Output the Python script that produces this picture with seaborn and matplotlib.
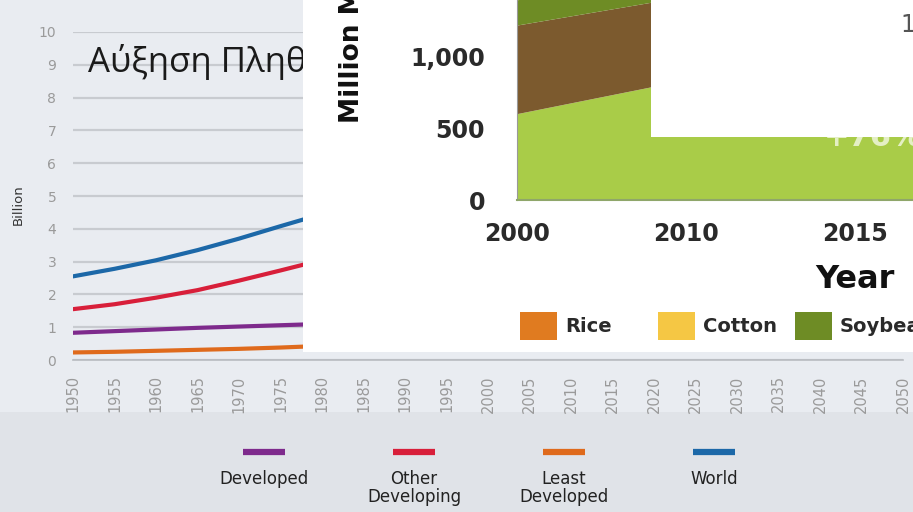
import numpy as np
import pandas as pd
import matplotlib
matplotlib.use('Agg')
import matplotlib.pyplot as plt
import seaborn as sns
from matplotlib.patches import Rectangle
from matplotlib.lines import Line2D
from matplotlib.ticker import StrMethodFormatter

# Population chart (background), billions
years = [1950, 1955, 1960, 1965, 1970, 1975, 1980]
world = [2.55, 2.78, 3.04, 3.35, 3.70, 4.08, 4.45]
other_developing = [1.55, 1.70, 1.90, 2.13, 2.42, 2.73, 3.05]
developed = [0.83, 0.88, 0.93, 0.98, 1.02, 1.06, 1.10]
least_developed = [0.23, 0.25, 0.28, 0.31, 0.34, 0.38, 0.43]
year_ticks = list(range(1950, 2051, 5))
y_ticks = list(range(0, 11))

series_names = ['Developed', 'Other Developing', 'Least Developed', 'World']
legend_labels = ['Developed', 'Other\nDeveloping', 'Least\nDeveloped', 'World']
series_colors = ['#7e2a8c', '#d81f3a', '#df6a1c', '#1c68a8']

# Crop chart (pasted on top), million metric tons
crop_years = ['2000', '2010', '2015', '2020']
crop_wheat = [600, 835, 1000, 1150]
crop_maize = [615, 580, 600, 620]
crop_soybean = [175, 260, 300, 330]
crop_cotton = [40, 60, 70, 80]
crop_rice = [60, 70, 80, 90]
crop_ticks = [0, 500, 1000]
legend_crops = ['Rice', 'Cotton', 'Soybean']
crop_colors = {'wheat': '#a9cc48', 'maize': '#7c5a2e', 'soybean': '#6e8c25',
               'cotton': '#f5c744', 'rice': '#e07b20'}

sns.set_style('white')
plt.rcParams['font.family'] = ['DejaVu Sans']

BG = '#e9ecf1'
fig = plt.figure(figsize=(9.13, 5.12), dpi=100, facecolor=BG)
fig.patches.append(Rectangle((0, 0), 1, 1 - 412 / 512, transform=fig.transFigure,
                             facecolor='#e0e3e8', edgecolor='none', zorder=-5))

# ---- background population chart
ax = fig.add_axes([73 / 913, 1 - 360 / 512, 830 / 913, 328 / 512])
ax.set_facecolor('none')
df = pd.DataFrame({'year': years * 4,
                   'value': developed + other_developing + least_developed + world,
                   'region': sum([[n] * len(years) for n in series_names], [])})
sns.lineplot(data=df, x='year', y='value', hue='region', hue_order=series_names,
             palette=dict(zip(series_names, series_colors)), linewidth=3,
             legend=False, ax=ax, zorder=3)
ax.set_xticks(year_ticks)
ax.set_xticklabels([str(y) for y in year_ticks], rotation=90)
ax.set_yticks(y_ticks)
ax.set_xlim(1950, 2050)
ax.set_ylim(0, 10)
ax.grid(axis='y', color='#c8cbd0', linewidth=1.6)
ax.grid(axis='x', visible=False)
for s in ['top', 'right', 'left']:
    ax.spines[s].set_visible(False)
ax.spines['bottom'].set_color('#b8bbc0')
ax.spines['bottom'].set_linewidth(1.2)
ax.tick_params(axis='x', colors='#9a9a9a', length=5, width=1, pad=6, labelsize=10.5)
ax.tick_params(axis='y', colors='#9a9a9a', length=0, pad=12, labelsize=10)
ax.set_xlabel('')
ax.set_ylabel('')
fig.text(18 / 913, 1 - 205 / 512, 'Billion', rotation=90, ha='center', va='center',
         fontsize=9.5, color='#333333')
# title is cut by the pasted panel, only the visible part is kept
title = ax.text(88 / 913, 1 - 62 / 512, 'Αύξηση Πληθ', transform=fig.transFigure,
                fontsize=25, color='#1a1a1a', va='center', ha='left',
                family=['Open Sans', 'DejaVu Sans'], zorder=4)

# legend of background chart
for i, (lab, col) in enumerate(zip(legend_labels, series_colors)):
    cx = (264 + 150 * i) / 913
    fig.add_artist(Line2D([cx - 21 / 913, cx + 21 / 913], [1 - 452 / 512] * 2,
                          color=col, linewidth=4.5, solid_capstyle='butt'))
    fig.text(cx, 1 - 470 / 512, lab, ha='center', va='top', fontsize=12,
             color='#222222', linespacing=1.0)

# ---- white pasted panel
ax_bg = fig.add_axes([303 / 913, 1 - 352 / 512, 610 / 913, 352 / 512], zorder=1)
ax_bg.set_facecolor('white')
ax_bg.set_xticks([])
ax_bg.set_yticks([])
for s in ax_bg.spines.values():
    s.set_visible(False)

# crop stacked area
ax2 = fig.add_axes([517 / 913, 1 - 200 / 512, 396 / 913, 200 / 512], zorder=2)
x_idx = np.arange(len(crop_years))
ax2.stackplot(x_idx, crop_wheat, crop_maize, crop_soybean, crop_cotton, crop_rice,
              colors=[crop_colors[k] for k in ['wheat', 'maize', 'soybean', 'cotton', 'rice']],
              linewidth=0)
ax2.set_xticks(x_idx)
ax2.set_xticklabels(crop_years)
ax2.set_yticks(crop_ticks)
ax2.set_xlim(0, 2.34)
ax2.set_ylim(0, 200 / 0.144)
ax2.yaxis.set_major_formatter(StrMethodFormatter('{x:,.0f}'))
for s in ['top', 'right']:
    ax2.spines[s].set_visible(False)
ax2.spines['left'].set_color('#999999')
ax2.spines['bottom'].set_color('#8fa66a')
ax2.spines['bottom'].set_linewidth(1.5)
ax2.tick_params(axis='y', length=9, width=1, color='#888888', pad=14,
                labelsize=17, labelcolor='#2a2a2a')
ax2.tick_params(axis='x', length=7, width=1, color='#888888', pad=9,
                labelsize=17, labelcolor='#2a2a2a')
for t in ax2.get_xticklabels() + ax2.get_yticklabels():
    t.set_fontweight('bold')
ax2.text(873 / 913, 1 - 146 / 512, '+76%', transform=fig.transFigure, ha='center',
         va='baseline', fontsize=22, fontweight='bold', color='#e4efc4')

fig.text(352 / 913, 1 - 123 / 512, 'Million M', rotation=90, ha='center', va='bottom',
         fontsize=19, fontweight='bold', color='#111111', zorder=3)
fig.text(855 / 913, 1 - 279 / 512, 'Year', ha='center', va='center', fontsize=23,
         fontweight='bold', color='#111111', zorder=3)

# crop legend
crop_leg_cols = [crop_colors['rice'], crop_colors['cotton'], crop_colors['soybean']]
for i, (lab, col) in enumerate(zip(legend_crops, crop_leg_cols)):
    x0 = (520 + 137.5 * i) / 913
    fig.patches.append(Rectangle((x0, 1 - 340 / 512), 37 / 913, 28 / 512,
                                 transform=fig.transFigure, facecolor=col,
                                 edgecolor='none', zorder=3))
    fig.text(x0 + 45 / 913, 1 - 327 / 512, lab, ha='left', va='center', fontsize=14,
             fontweight='bold', color='#2a2a2a', zorder=3)

# white box pasted over the crop chart
ax_mask = fig.add_axes([651 / 913, 1 - 137 / 512, 262 / 913, 137 / 512], zorder=4)
ax_mask.set_facecolor('white')
ax_mask.set_xticks([])
ax_mask.set_yticks([])
for s in ax_mask.spines.values():
    s.set_visible(False)
fig.text(908 / 913, 1 - 25 / 512, '1', ha='center', va='center', fontsize=17,
         color='#555555', zorder=6)

fig.savefig('out.png', dpi=100, facecolor=fig.get_facecolor())
